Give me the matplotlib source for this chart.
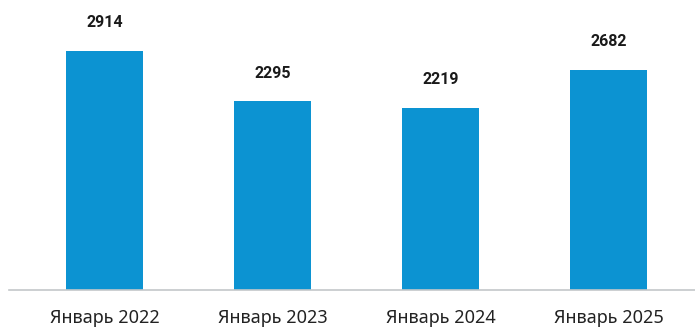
import matplotlib
matplotlib.use("Agg")
import matplotlib.pyplot as plt

categories = ["Январь 2022", "Январь 2023", "Январь 2024", "Январь 2025"]
values = [2914, 2295, 2219, 2682]

plt.rcParams['font.family'] = ['Noto Sans', 'DejaVu Sans']

fig = plt.figure(figsize=(6.95, 3.27), dpi=100)
# axes: left edge at x=9px, baseline at y=289.5px
ax = fig.add_axes([9 / 695, (327 - 289.5) / 327, 686 / 695, 289.5 / 327])

x = list(range(len(categories)))
ax.bar(x, values, width=0.46, color="#0C93D2")

for xi, v in zip(x, values):
    ax.annotate(str(v), (xi, v), xytext=(0, 17), textcoords="offset points",
                ha="center", va="baseline", fontsize=11.5, fontweight="bold",
                family=["Roboto", "DejaVu Sans"], color="#1a1a1a")

ax.set_xlim(-0.568, 3.515)
ax.set_ylim(0, 3533)

ax.set_xticks(x)
ax.set_xticklabels(categories, fontsize=13, color="#222222")
ax.tick_params(axis="x", length=0, pad=14)
ax.set_yticks([])

for side in ["top", "right", "left"]:
    ax.spines[side].set_visible(False)
ax.spines["bottom"].set_color("#c3c7c9")
ax.spines["bottom"].set_linewidth(1.2)

fig.savefig("out.png", dpi=100)
